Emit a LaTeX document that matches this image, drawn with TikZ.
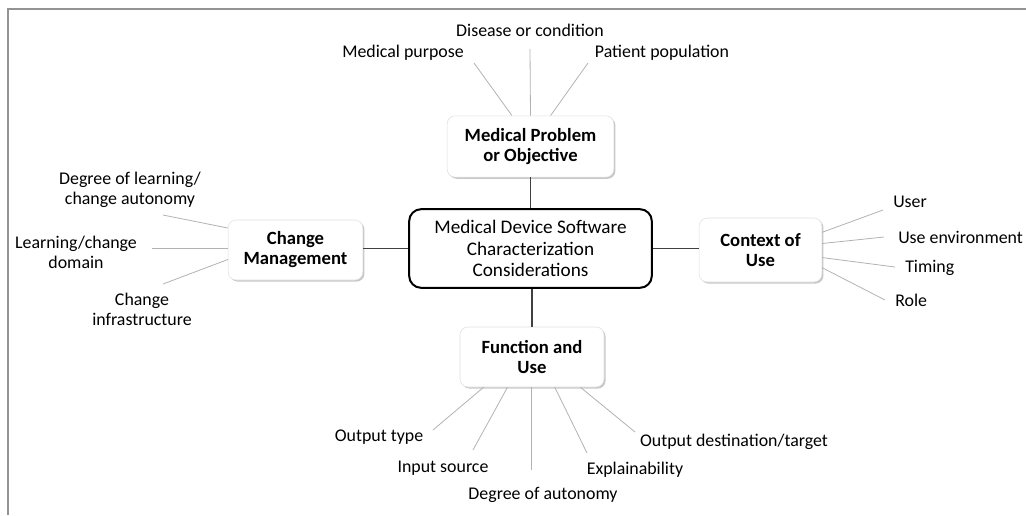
\documentclass[tikz,border=0pt]{standalone}
\usepackage{fontspec}
\setmainfont{Carlito}
\usetikzlibrary{shadows}

\begin{document}
\begin{tikzpicture}[
	x=0.75pt, y=-0.75pt,
	hub/.style={draw=black, line width=1.5pt, rounded corners=9pt, fill=white, align=center, inner sep=0pt, minimum width=182pt, minimum height=59pt, font=\fontsize{14.4}{16}\selectfont},
	sat/.style={draw=gray!25, line width=0.4pt, rounded corners=6pt, fill=white, align=center, inner sep=0pt, font=\fontsize{14}{15}\selectfont\bfseries, drop shadow={shadow xshift=1.2pt, shadow yshift=-1.2pt, opacity=0.22, fill=black}},
	spk/.style={align=center, inner sep=0pt, font=\fontsize{13.4}{15}\selectfont, text=black},
	spoke/.style={draw=gray!60, line width=0.6pt},
	link/.style={draw=black!75, line width=1.2pt}
]
\useasboundingbox (0,0) rectangle (1026,515);
\draw[gray!85, line width=1.2pt] (8,515) -- (8,9) -- (1026,9);

% centre and the four branches
\node[hub] (ctr) at (530.5,248.5) {Medical Device Software\\Characterization\\Considerations};
\node[sat, minimum width=125pt, minimum height=46pt] (mpo) at (530.5,146.5) {Medical Problem\\or Objective};
\node[sat, minimum width=101pt, minimum height=45pt] (cm) at (295.5,250) {Change\\Management};
\node[sat, minimum width=92pt, minimum height=48pt] (cu) at (760.5,250) {Context of\\Use};
\node[sat, minimum width=108pt, minimum height=45pt] (fu) at (532,357) {Function and\\Use};

\draw[link] (mpo.south) -- (ctr.north -| mpo.south);
\draw[link] (ctr.west) -- (cm.east |- ctr.west);
\draw[link] (ctr.east) -- (cu.west |- ctr.east);
\draw[link] (ctr.south -| fu.north) -- (fu.north);

% labels round the top box
\node[spk] (mp) at (403,53) {Medical purpose};
\node[spk] (dc) at (530,30) {Disease or condition};
\node[spk] (pp) at (662,53) {Patient population};
\coordinate (mpE) at (474,63);
\coordinate (dcE) at (530,49);
\coordinate (ppE) at (588,63);
\draw[spoke] (mpo.121) -- (mpE);
\draw[spoke] (mpo.90) -- (dcE);
\draw[spoke] (mpo.57) -- (ppE);

% labels round change management
\node[spk] (dl) at (130,190) {Degree of learning/\\change autonomy};
\node[spk] (ld) at (76,252) {Learning/change\\domain};
\node[spk] (ci) at (142,309) {Change\\infrastructure};
\coordinate (dlE) at (163,215);
\coordinate (ldE) at (152,248);
\coordinate (ciE) at (163,284);
\draw[spoke] (cm.162) -- (dlE);
\draw[spoke] (cm.west |- ldE) -- (ldE);
\draw[spoke] (cm.188) -- (ciE);

% labels round context of use
\node[spk, anchor=west] (us) at (893,202) {User};
\node[spk, anchor=west] (ue) at (898,237) {Use environment};
\node[spk, anchor=west] (ti) at (905,268) {Timing};
\node[spk, anchor=west] (ro) at (895,300) {Role};
\coordinate (usE) at (883,210);
\coordinate (ueE) at (884,237);
\coordinate (tiE) at (895,267);
\coordinate (roE) at (885,300);
\draw[spoke] (cu.16) -- (usE);
\draw[spoke] (cu.6) -- (ueE);
\draw[spoke] (cu.353) -- (tiE);
\draw[spoke] (cu.344) -- (roE);

% labels round function and use
\node[spk] (ot) at (379,437) {Output type};
\node[spk] (is) at (443,468) {Input source};
\node[spk] (da) at (543,495) {Degree of autonomy};
\node[spk] (ex) at (635,470) {Explainability};
\node[spk] (od) at (734,442) {Output destination/target};
\coordinate (otE) at (433,430);
\coordinate (isE) at (473,450);
\coordinate (daE) at (531,470);
\coordinate (exE) at (587,453);
\coordinate (odE) at (635,432);
\draw[spoke] (fu.212) -- (otE);
\draw[spoke] (fu.231) -- (isE);
\draw[spoke] (fu.south -| daE) -- (daE);
\draw[spoke] (fu.307) -- (exE);
\draw[spoke] (fu.328) -- (odE);
\end{tikzpicture}
\end{document}
